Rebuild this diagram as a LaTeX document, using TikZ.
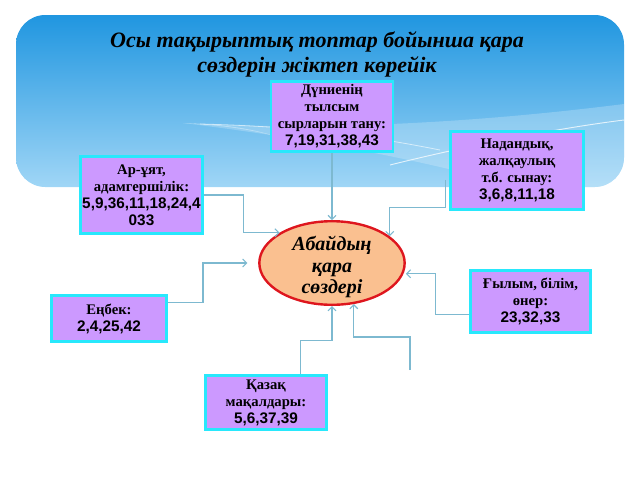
\documentclass[tikz,border=0pt]{standalone}
\usepackage{fontspec}
\setmainfont{Liberation Serif}
\setsansfont{Liberation Sans}
\usetikzlibrary{shapes.geometric,arrows.meta}

\definecolor{skytop}{RGB}{32,150,224}
\definecolor{skybot}{RGB}{160,214,246}
\definecolor{boxfill}{RGB}{204,153,255}
\definecolor{boxline}{RGB}{40,232,252}
\definecolor{corefill}{RGB}{250,192,144}
\definecolor{coreline}{RGB}{222,22,30}
\definecolor{linkcol}{RGB}{125,185,208}

\newcommand{\nums}[1]{{\sffamily\fontsize{11.5}{12.75}\selectfont #1}}

\begin{document}
\begin{tikzpicture}[x=0.75pt, y=-0.75pt]
        % Define styles
        \tikzstyle{topic} = [rectangle, draw=boxline, line width=2.2pt, fill=boxfill, align=center, inner sep=1pt, font=\fontsize{11}{12.75}\selectfont\bfseries]
        \tikzstyle{core} = [ellipse, draw=coreline, line width=1.8pt, fill=corefill, minimum width=109pt, minimum height=62.7pt, inner xsep=0pt, inner ysep=-5pt, align=center, font=\fontsize{15}{16}\selectfont\bfseries\itshape]
        \tikzstyle{arrow} = [line width=0.8pt, draw=linkcol, -{Straight Barb[length=3pt,width=6pt]}]

        \useasboundingbox (0,0) rectangle (640,480);

        % Sky panel
        \shade[top color=skytop, bottom color=skybot, rounded corners=22pt] (16,15) rectangle (624,187);
        \begin{scope}
            \clip[rounded corners=22pt] (16,15) rectangle (624,187);
            \fill[white, opacity=.22] (183,123) .. controls (300,130) and (450,126) .. (624,104) -- (624,187) -- (520,187) .. controls (420,160) and (320,140) .. (183,123) -- cycle;
            \fill[white, opacity=.35] (183,123) .. controls (220,124) and (250,128) .. (275,136) .. controls (245,128) and (215,125) .. (183,123) -- cycle;
            \draw[white, opacity=.75, line width=0.7pt] (390,165) .. controls (470,145) and (560,128) .. (624,120);
            \draw[white, opacity=.6, line width=0.6pt] (200,124) .. controls (280,126) and (350,132) .. (440,150);
        \end{scope}

        % Nodes
        \node (title) [align=center, font=\fontsize{16.5}{18.75}\selectfont\bfseries\itshape] at (317,54) {Осы тақырыптық топтар бойынша қара\\ сөздерін жіктеп көрейік};
        \node (abai) [core] at (332,263) {\rule{0pt}{17pt}Абайдың\\ қара\\ сөздері};
        \node (dunie) [topic, minimum width=91.5pt, minimum height=52.5pt] at (332,116.5) {Дүниенің\\ тылсым\\ сырларын тану:\\ \nums{7,19,31,38,43}};
        \node (ar) [topic, minimum width=90pt, minimum height=57.75pt] at (141.5,195) {Ар-ұят,\\ адамгершілік:\\ \nums{5,9,36,11,18,24,4}\\ \nums{033}};
        \node (nadan) [topic, minimum width=99.75pt, minimum height=58.5pt] at (517,170.5) {Надандық,\\ жалқаулық\\ т.б. сынау:\\ \nums{3,6,8,11,18}};
        \node (enbek) [topic, minimum width=86.25pt, minimum height=34.5pt] at (109,318.5) {Еңбек:\\ \nums{2,4,25,42}};
        \node (gylym) [topic, minimum width=90pt, minimum height=46.5pt] at (530.5,301.5) {Ғылым, білім,\\ өнер:\\ \nums{23,32,33}};
        \node (kazak) [topic, minimum width=90.75pt, minimum height=40.5pt] at (266,402.5) {Қазақ\\ мақалдары:\\ \nums{5,6,37,39}};
        \coordinate (loose) at (410,370);

        % Arrows
        \draw [arrow] (dunie.south) -- (abai.north);
        \draw [arrow] (ar.east) -- ++(40,0) |- (abai.150);
        \draw [arrow] ([xshift=-3pt,yshift=-7pt]nadan.west) -- ++(0,28) -| (abai.25);
        \draw [arrow] ([yshift=12pt]enbek.east) -- ++(35,0) |- ([xshift=-8pt]abai.west);
        \draw [arrow] ([yshift=-10pt]gylym.west) -- ++(-34,0) |- ([yshift=-8pt]abai.east);
        \draw [arrow] ([xshift=26pt]kazak.north) -- ++(0,-34) -| (abai.south);
        \draw [arrow] (loose) -- ++(0,-33) -| (abai.-62);
    \end{tikzpicture}
\end{document}
